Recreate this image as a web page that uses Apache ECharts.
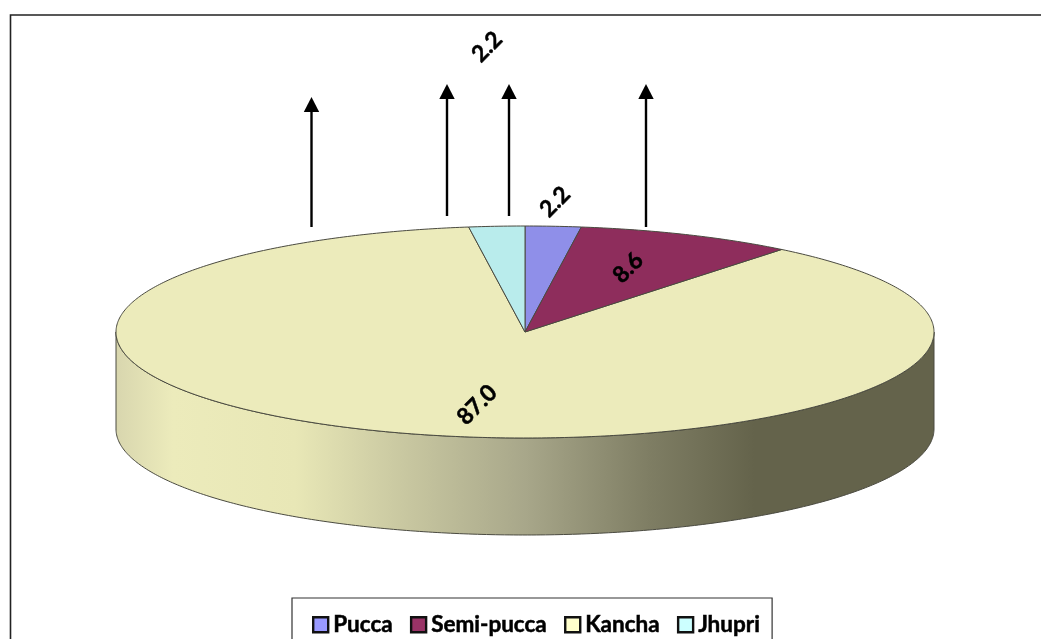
<!DOCTYPE html>
<html><head><meta charset="utf-8">
<style>html,body{margin:0;padding:0;background:#fff;overflow:hidden}#c{width:1041px;height:639px}</style>
<script src="https://cdn.jsdelivr.net/npm/echarts@6/dist/echarts.min.js"></script>
</head><body><div id="c"></div>
<script>
const categories = ['Pucca', 'Semi-pucca', 'Kancha', 'Jhupri'];
const values = [2.2, 8.6, 87.0, 2.2];
const sliceColors = ['#8f8fe9', '#8e2d5c', '#ecebbb', '#b9ecec'];
const legendColors = ['#9999ff', '#993366', '#ffffcc', '#ccffff'];
const labelSpots = [[555, 202], [628, 268], [477, 405], [487, 47]];

const FONT = 'Lato, Carlito, "Open Sans", sans-serif';
const cx = 525, cy = 332, rx = 409, ry = 106, depth = 97;
const total = values.reduce((a, b) => a + b, 0);
const pt = (a, dy) => [cx + rx * Math.sin(a), cy - ry * Math.cos(a) + (dy || 0)];
function arc(a0, a1, dy) {
  const n = Math.max(2, Math.ceil(Math.abs(a1 - a0) * 90)), out = [];
  for (let i = 0; i <= n; i++) out.push(pt(a0 + (a1 - a0) * i / n, dy));
  return out;
}
const edge = '#4a4a40';
const wallGradient = new echarts.graphic.LinearGradient(0, 0, 1, 0, [
  {offset: 0, color: '#d8d6ae'},
  {offset: 0.07, color: '#ecebbb'},
  {offset: 0.22, color: '#e8e7b6'},
  {offset: 0.35, color: '#c9c8a1'},
  {offset: 0.5, color: '#a8a78a'},
  {offset: 0.65, color: '#7f7e64'},
  {offset: 0.78, color: '#64634b'},
  {offset: 1, color: '#64634b'}
]);

function renderSlice(index) {
  return function (params, api) {
    const v = api.value(0);
    const before = values.slice(0, index).reduce((a, b) => a + b, 0);
    const a0 = before / total * 2 * Math.PI;
    const a1 = (before + v) / total * 2 * Math.PI;
    const children = [];
    const lo = Math.max(a0, Math.PI / 2), hi = Math.min(a1, 3 * Math.PI / 2);
    if (hi > lo) {
      children.push({
        type: 'polygon',
        shape: {points: arc(lo, hi, 0).concat(arc(hi, lo, depth))},
        style: {fill: wallGradient, stroke: edge, lineWidth: 1}
      });
    }
    children.push({
      type: 'polygon',
      shape: {points: [[cx, cy]].concat(arc(a0, a1, 0))},
      style: {fill: sliceColors[index], stroke: edge, lineWidth: 1}
    });
    children.push({
      type: 'text',
      x: labelSpots[index][0], y: labelSpots[index][1],
      rotation: Math.PI / 4,
      style: {
        text: v.toFixed(1), fill: '#000', font: 'bold 23px ' + FONT,
        stroke: '#000', lineWidth: 0.5,
        align: 'center', verticalAlign: 'middle'
      },
      z2: 50
    });
    return {type: 'group', children};
  };
}

const arrows = [[311.5, 227, 97], [447, 216, 84], [509, 216, 84], [646, 227, 84]];
const graphic = [
  {type: 'polyline', silent: true, shape: {points: [[10.5, 660], [10.5, 15], [1060, 15]]},
   style: {stroke: '#222', lineWidth: 1.6, fill: null}, z: 0}
];
arrows.forEach(([x, y0, y1]) => {
  graphic.push({type: 'line', silent: true, shape: {x1: x, y1: y0, x2: x, y2: y1 + 12},
    style: {stroke: '#000', lineWidth: 2.4}, z: 5});
  graphic.push({type: 'polygon', silent: true,
    shape: {points: [[x, y1], [x + 7.7, y1 + 15], [x - 7.7, y1 + 15]]},
    style: {fill: '#000'}, z: 5});
});

const chart = echarts.init(document.getElementById('c'), null, {renderer: 'canvas'});
chart.setOption({
  animation: false,
  backgroundColor: '#fff',
  graphic,
  legend: {
    left: 292, top: 598,
    padding: [15, 12, 40, 20],
    itemGap: 17,
    itemWidth: 15, itemHeight: 15,
    selectedMode: false,
    borderColor: '#333', borderWidth: 1.2,
    textStyle: {fontFamily: FONT, fontWeight: 'bold', fontSize: 22.5, color: '#000',
      textBorderColor: '#000', textBorderWidth: 0.5},
    data: categories.map((name, i) => ({
      name, icon: 'rect',
      itemStyle: {color: legendColors[i], borderColor: '#111', borderWidth: 2.4}
    }))
  },
  series: categories.map((name, i) => ({
    type: 'custom',
    name,
    coordinateSystem: 'none',
    renderItem: renderSlice(i),
    data: [[values[i]]],
    itemStyle: {color: legendColors[i]},
    z: i === 2 ? 2 : 3
  }))
});
</script></body></html>
